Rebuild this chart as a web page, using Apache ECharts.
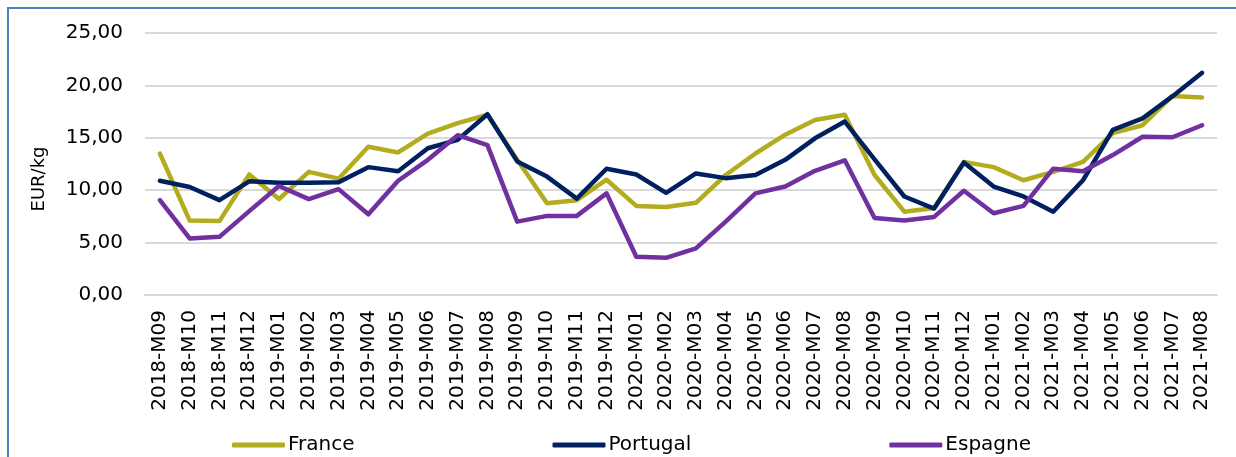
<!DOCTYPE html>
<html>
<head>
<meta charset="utf-8">
<script src="https://cdn.jsdelivr.net/npm/echarts@6/dist/echarts.min.js"></script>
<style>
html,body{margin:0;padding:0;background:#fff;}
#chart{width:1236px;height:457px;}
</style>
</head>
<body>
<div id="chart"></div>
<script>
const categories = ["2018-M09","2018-M10","2018-M11","2018-M12","2019-M01","2019-M02","2019-M03","2019-M04","2019-M05","2019-M06","2019-M07","2019-M08","2019-M09","2019-M10","2019-M11","2019-M12","2020-M01","2020-M02","2020-M03","2020-M04","2020-M05","2020-M06","2020-M07","2020-M08","2020-M09","2020-M10","2020-M11","2020-M12","2021-M01","2021-M02","2021-M03","2021-M04","2021-M05","2021-M06","2021-M07","2021-M08"];
const france   = [13.5,7.1,7.05,11.5,9.15,11.75,11.1,14.15,13.6,15.4,16.4,17.2,12.9,8.75,9.05,11.0,8.5,8.4,8.8,11.45,13.5,15.3,16.7,17.2,11.45,7.95,8.3,12.7,12.2,10.95,11.75,12.7,15.45,16.2,19.0,18.85];
const portugal = [10.9,10.3,9.05,10.85,10.7,10.7,10.75,12.2,11.8,14.0,14.8,17.25,12.75,11.3,9.2,12.05,11.5,9.75,11.6,11.15,11.45,12.9,14.95,16.55,12.95,9.4,8.25,12.65,10.35,9.4,7.95,10.95,15.75,16.85,18.95,21.2];
const espagne  = [9.05,5.4,5.55,8.0,10.4,9.15,10.1,7.7,10.9,12.9,15.25,14.3,7.0,7.55,7.55,9.7,3.65,3.55,4.45,7.0,9.7,10.35,11.85,12.85,7.35,7.1,7.45,9.95,7.8,8.5,12.05,11.8,13.35,15.1,15.05,16.2];
const yTicks = {min: 0, max: 25, interval: 5};

const chart = echarts.init(document.getElementById('chart'), null, {renderer: 'canvas'});
const font = 'DejaVu Sans';
function mk(name, data, color) {
  return {name, type: 'line', data, symbol: 'none', smooth: false,
    lineStyle: {width: 4.5, color, cap: 'round', join: 'round'}, itemStyle: {color}};
}
chart.setOption({
  animation: false,
  textStyle: {fontFamily: font, color: '#000'},
  graphic: [{type: 'polyline', shape: {points: [[8, 460], [8, 8], [1240, 8]]},
    style: {stroke: '#4f81bd', lineWidth: 2, fill: null}, silent: true}],
  grid: {left: 145, right: 19, top: 33, bottom: 162, containLabel: false},
  legend: {
    left: 227, top: 430, icon: 'roundRect', itemWidth: 53, itemHeight: 5, itemGap: 198,
    textStyle: {fontFamily: font, fontSize: 20, color: '#000', padding: [0, 0, 0, -2]},
    data: ['France', 'Portugal', 'Espagne']
  },
  xAxis: {
    type: 'category', data: categories, boundaryGap: true,
    axisTick: {show: false},
    axisLine: {lineStyle: {color: '#d9d9d9', width: 2}},
    axisLabel: {rotate: 90, interval: 0, fontSize: 20, color: '#000', fontFamily: font, margin: 15}
  },
  yAxis: {
    type: 'value', min: yTicks.min, max: yTicks.max, interval: yTicks.interval,
    name: 'EUR/kg', nameLocation: 'middle', nameRotate: 90, nameGap: 97,
    nameTextStyle: {fontSize: 18, color: '#000', fontFamily: font, padding: [0, 30, 0, 0]},
    axisLine: {show: false}, axisTick: {show: false},
    splitLine: {lineStyle: {color: '#d9d9d9', width: 2}},
    axisLabel: {fontSize: 20, color: '#000', fontFamily: font, margin: 22,
      formatter: v => v.toFixed(2).replace('.', ',')}
  },
  series: [
    mk('France', france, '#b4ac1f'),
    mk('Portugal', portugal, '#002060'),
    mk('Espagne', espagne, '#7030a0')
  ]
});
</script>
</body>
</html>
